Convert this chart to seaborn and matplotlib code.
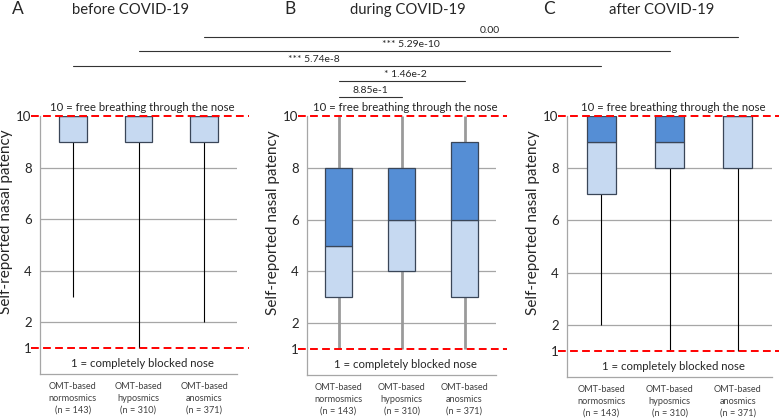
import numpy as np
import matplotlib.pyplot as plt
import seaborn as sns

sns.set_style("white")
plt.rcParams["font.family"] = ["Lato", "DejaVu Sans"]

# ================= Data =================
groups = ["OMT-based\nnormosmics\n(n = 143)",
          "OMT-based\nhyposmics\n(n = 310)",
          "OMT-based\nanosmics\n(n = 371)"]
periods = ["before COVID-19", "during COVID-19", "after COVID-19"]
letters = ["A", "B", "C"]

whisker_low = [[3, 1, 2], [1, 1, 1], [2, 1, 1]]
q1 = [[9, 9, 9], [3, 4, 3], [7, 8, 8]]
median = [[10, 10, 10], [5, 6, 6], [9, 9, 10]]
q3 = [[10, 10, 10], [8, 8, 9], [10, 10, 10]]
whisker_high = [[10, 10, 10], [10, 10, 10], [10, 10, 10]]

yticks = [1, 2, 4, 6, 8, 10]
grid_vals = [2, 4, 6, 8]
top_text = "10 = free breathing through the nose"
bottom_text = "1 = completely blocked nose"

# comparisons: (panel, group) -> (panel, group), label
comp_start = [(0, 2), (0, 1), (0, 0), (1, 0), (1, 0)]
comp_end = [(2, 2), (2, 1), (2, 0), (1, 2), (1, 1)]
comp_labels = ["0.00", "*** 5.29e-10", "*** 5.74e-8", "* 1.46e-2", "8.85e-1"]

# ================= Layout =================
W, H = 779, 420
light = "#C6D9F1"
dark = "#558ED5"
edge = "#3A4658"
gray = "#A6A6A6"

# axes boxes in pixels: left, right, top, bottom
ax_px = [(40, 237, 116, 374), (307, 496, 116, 375), (567, 772, 116, 377)]
whisker_style = [dict(color="black", lw=0.8), dict(color="#9A9A9A", lw=2.0),
                 dict(color="black", lw=0.8)]
letter_x = [18, 290, 549]
title_x = [130, 408, 662]

fig = plt.figure(figsize=(W / 100, H / 100), dpi=100)
axes = []
for k in range(3):
    l, r, t, b = ax_px[k]
    ax = fig.add_axes([l / W, 1 - b / H, (r - l) / W, (b - t) / H])
    axes.append(ax)

    for g in grid_vals:
        ax.axhline(g, color=gray, lw=0.9, zorder=0)

    ax.vlines(np.arange(len(groups)), whisker_low[k], whisker_high[k],
              zorder=1, **whisker_style[k])

    lo_h = np.array(median[k]) - np.array(q1[k])
    hi_h = np.array(q3[k]) - np.array(median[k])
    sns.barplot(x=groups, y=lo_h, bottom=q1[k], width=0.42, color=light,
                saturation=1, errorbar=None, edgecolor=edge, linewidth=0.9,
                zorder=2, ax=ax)
    sns.barplot(x=groups, y=hi_h, bottom=median[k], width=0.42, color=dark,
                saturation=1, errorbar=None, edgecolor=edge, linewidth=0.9,
                zorder=2, ax=ax)

    ax.set_xlim(-0.5, len(groups) - 0.5)
    ax.set_ylim(0, 10)
    ax.set_yticks(yticks)

    # red reference lines, extending a bit beyond the axes
    for yv in (1, 10):
        ax.plot([-0.045, 1.06], [yv, yv], transform=ax.get_yaxis_transform(),
                color="red", lw=1.4, ls=(0, (4, 2.2)), clip_on=False, zorder=5)
    ax.text(0.52, 10.12, top_text, transform=ax.get_yaxis_transform(),
            ha="center", va="bottom", fontsize=8.2)
    ax.text(0.52, 0.42, bottom_text, transform=ax.get_yaxis_transform(),
            ha="center", va="center", fontsize=8.2)

    ax.set_xlabel(None)
    ax.set_ylabel("Self-reported nasal patency", fontsize=11)
    ax.yaxis.set_label_coords(-27 / (r - l), 0.59)
    ax.set_xticks(range(len(groups)))
    ax.set_xticklabels(groups, fontsize=6.6, linespacing=1.35, color="#404040")
    ax.set_xticks([-0.5, 0.5, 1.5, 2.5], minor=True)
    ax.tick_params(axis="x", which="major", length=0, pad=6)
    ax.tick_params(axis="x", which="minor", length=4, color=gray, direction="out")
    ax.tick_params(axis="y", length=4, color=gray, direction="out", labelsize=9.5,
                   pad=2)
    for side in ("top", "right"):
        ax.spines[side].set_visible(False)
    for side in ("left", "bottom"):
        ax.spines[side].set_color(gray)
        ax.spines[side].set_linewidth(0.9)

    fig.text(letter_x[k] / W, 1 - 9 / H, letters[k], ha="center", va="center",
             fontsize=12.5)
    fig.text(title_x[k] / W, 1 - 10 / H, periods[k], ha="center", va="center",
             fontsize=10.7)

# ================= Significance bars =================
def fig_x(panel, grp):
    px = axes[panel].transData.transform((grp, 0))[0]
    return px / W

line_y = [37, 51, 66, 81, 97]
label_dx = [19, 7, -23, 4, 0]
for i, lab in enumerate(comp_labels):
    x0 = fig_x(*comp_start[i])
    x1 = fig_x(*comp_end[i])
    y = 1 - line_y[i] / H
    fig.add_artist(plt.Line2D([x0, x1], [y, y], color="#333333", lw=0.8,
                              transform=fig.transFigure))
    fig.text((x0 + x1) / 2 + label_dx[i] / W, y + 2 / H, lab, ha="center",
             va="bottom", fontsize=7.5)

fig.savefig("out.png", dpi=100)
